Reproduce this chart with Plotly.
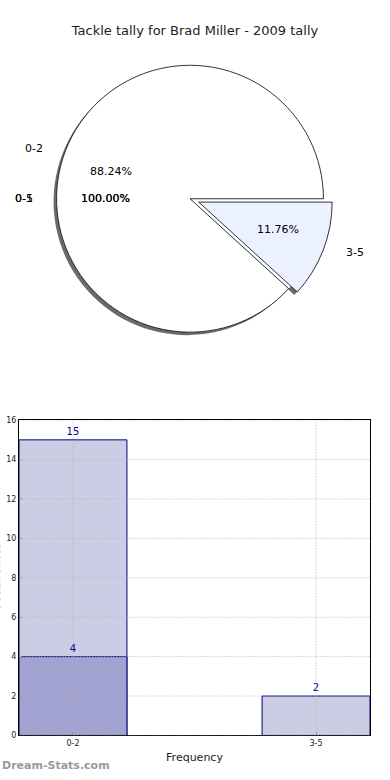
import math
import plotly.graph_objects as go

# ---------------- data ----------------
chart_title = "Tackle tally for Brad Miller - 2009 tally"
pie_labels = ["0-2", "3-5"]
pie_values = [15, 2]
pie_colors = ["#FFFFFF", "#EBF1FF"]
pie_explode = [0.0, 0.07]
empty_pie_labels = ["0-5", "0-1"]   # single-category pies, each shown as 100%
empty_pie_values = [1, 1]

bar_categories = ["0-2", "3-5"]
bar_total = [15, 2]
bar_sub_categories = ["0-2"]
bar_sub_values = [4]
y_tick_values = [0, 2, 4, 6, 8, 10, 12, 14, 16]
x_axis_title = "Frequency"
y_axis_title = "Occurrences"
watermark = "Dream-Stats.com"

# ---------------- layout constants ----------------
W, H = 390, 780
CX, CY = 190, 197          # pie centre (px)
R = 135                    # pie radius (px)
RX, RY = 141, 128          # label placement radii (px)
PULL = max(pie_explode)


def px(x, y):
    return x / W, 1 - y / H


def dom(cx, cy, half):
    return [(cx - half) / W, (cx + half) / W], [1 - (cy + half) / H, 1 - (cy - half) / H]


total = sum(pie_values)
# first slice starts at 3 o'clock and runs counter-clockwise
pie_rotation = 90 + 360 * (1 - pie_values[0] / total)

main_x, main_y = dom(CX, CY, R * (1 + PULL))
shadow_x, shadow_y = dom(CX - 3, CY + 3, R * (1 + PULL))
fill_x, fill_y = dom(CX, CY, R)

common = dict(labels=pie_labels, values=pie_values, sort=False, direction="counterclockwise",
              rotation=pie_rotation, textinfo="none", showlegend=False)

fig = go.Figure()
# shadow
fig.add_trace(go.Pie(
    **common, pull=pie_explode, hoverinfo="skip",
    marker=dict(colors=["rgba(70,70,70,0.8)"] * len(pie_values), line=dict(width=0)),
    domain=dict(x=shadow_x, y=shadow_y),
))
# white backing disc (keeps the shadow out of the explode gap)
fig.add_trace(go.Pie(
    **common, hoverinfo="skip",
    marker=dict(colors=["#FFFFFF"] * len(pie_values), line=dict(width=0)),
    domain=dict(x=fill_x, y=fill_y),
))
# main pie
fig.add_trace(go.Pie(
    **common, pull=pie_explode,
    marker=dict(colors=pie_colors, line=dict(color="#000000", width=0.8)),
    domain=dict(x=main_x, y=main_y),
))

annotations = []
pie_font = dict(family="DejaVu Sans", size=11, color="#000000")
start = 0.0
for lab, val, e in zip(pie_labels, pie_values, pie_explode):
    frac = val / total
    mid = math.radians((start + frac / 2) * 360)
    start += frac
    c, s = math.cos(mid), math.sin(mid)
    lx, ly = px(CX + (1.1 + e) * RX * c, CY - (1.1 + e) * RY * s)
    annotations.append(dict(text=lab, x=lx, y=ly, xref="paper", yref="paper",
                            xanchor="right" if c < 0 else "left", yanchor="middle",
                            showarrow=False, font=pie_font))
    tx, ty = px(CX + (0.6 + e) * RX * c, CY - (0.6 + e) * RY * s)
    annotations.append(dict(text=f"{frac*100:.2f}%", x=tx, y=ty, xref="paper", yref="paper",
                            xanchor="center", yanchor="middle", showarrow=False, font=pie_font))

for lab, val in zip(empty_pie_labels, empty_pie_values):
    frac = val / val
    mid = math.radians(frac / 2 * 360)
    c, s = math.cos(mid), math.sin(mid)
    lx, ly = px(CX + 1.1 * RX * c, CY - 1.1 * RY * s)
    annotations.append(dict(text=lab, x=lx, y=ly, xref="paper", yref="paper",
                            xanchor="right", yanchor="middle", showarrow=False, font=pie_font))
    tx, ty = px(CX + 0.6 * RX * c, CY - 0.6 * RY * s)
    annotations.append(dict(text=f"{frac*100:.2f}%", x=tx, y=ty, xref="paper", yref="paper",
                            xanchor="center", yanchor="middle", showarrow=False, font=pie_font))

# ---------------- bars ----------------
BAR_W = 0.444
navy = "#000080"
fig.add_trace(go.Bar(
    x=bar_categories, y=bar_total, width=BAR_W,
    marker=dict(color="#CCCCE4", line=dict(color=navy, width=1)),
    text=bar_total, textposition="outside", cliponaxis=False,
    textfont=dict(family="DejaVu Sans", size=10, color=navy),
    xaxis="x", yaxis="y", showlegend=False,
))
fig.add_trace(go.Bar(
    x=bar_sub_categories, y=bar_sub_values, width=BAR_W,
    marker=dict(color="#A3A3D1", line=dict(color=navy, width=1)),
    text=bar_sub_values, textposition="outside", cliponaxis=False,
    textfont=dict(family="DejaVu Sans", size=10, color=navy),
    xaxis="x", yaxis="y", showlegend=False,
))

shapes = []
grid = dict(color="#B4B4B4", width=1, dash="1px,2px")
for yv in y_tick_values:
    shapes.append(dict(type="line", xref="x", yref="y", x0=-0.5, x1=1.5, y0=yv, y1=yv,
                       line=grid, layer="above"))
for i in range(len(bar_categories)):
    shapes.append(dict(type="line", xref="x", yref="y", x0=i, x1=i, y0=0, y1=16,
                       line=grid, layer="above"))

tick_font = dict(family="DejaVu Sans", size=8, color="#222222")
fig.update_layout(
    width=W, height=H, margin=dict(l=0, r=0, t=0, b=0),
    paper_bgcolor="white", plot_bgcolor="white",
    barmode="overlay",
    title=dict(text=chart_title, x=0.5, xanchor="center", y=1 - 30 / H, yanchor="middle",
               yref="container", font=dict(family="DejaVu Sans", size=13, color="#222222")),
    xaxis=dict(domain=[19 / W, 370 / W], anchor="y", type="category",
               range=[-BAR_W / 2, 1 + BAR_W / 2], showgrid=False, zeroline=False,
               showline=True, linecolor="#000000", linewidth=1, mirror=True,
               ticks="inside", ticklen=3, tickcolor="#888888", tickfont=tick_font,
               title=dict(text=x_axis_title, standoff=6,
                          font=dict(family="DejaVu Sans", size=11, color="#222222"))),
    yaxis=dict(domain=[1 - 740 / H, 1 - 421 / H], anchor="x", range=[0, 16],
               tickvals=y_tick_values, showgrid=False, zeroline=False,
               showline=True, linecolor="#000000", linewidth=1, mirror=True,
               ticks="inside", ticklen=3, tickcolor="#888888", tickfont=tick_font),
    shapes=shapes,
    annotations=annotations + [
        dict(text=y_axis_title, x=-4 / W, y=1 - 580 / H, xref="paper", yref="paper",
             textangle=-90, xanchor="center", yanchor="middle", showarrow=False,
             font=dict(family="DejaVu Sans", size=11, color="#222222")),
        dict(text=watermark, x=0, y=1 - 770 / H, xref="paper", yref="paper",
             xanchor="left", yanchor="middle", showarrow=False,
             font=dict(family="DejaVu Sans", size=11, color="#999999", weight="bold")),
    ],
)

post = (
    "document.documentElement.style.margin='0';"
    "document.documentElement.style.overflow='hidden';"
    "document.body.style.margin='0';"
    "document.body.style.overflow='hidden';"
    "document.querySelectorAll('.svg-container').forEach(function(e){"
    "e.style.verticalAlign='top';e.style.display='block';});"
)
fig.write_html("out.html", config={"displayModeBar": False}, post_script=post)
